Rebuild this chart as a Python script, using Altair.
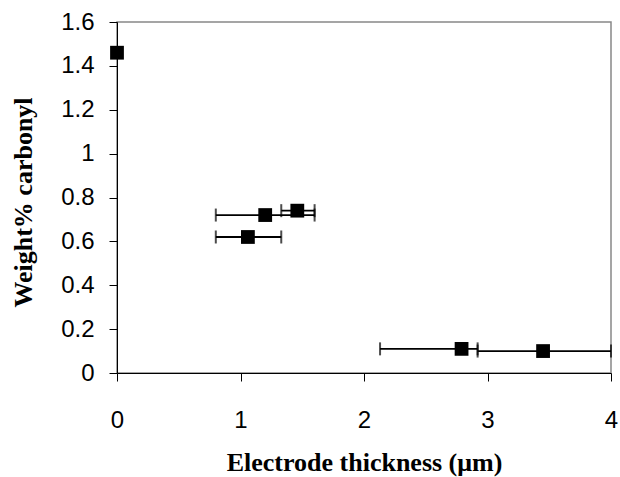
import altair as alt
import pandas as pd

thickness = [0.0, 1.06, 1.20, 1.46, 2.79, 3.45]
carbonyl = [1.46, 0.62, 0.72, 0.74, 0.11, 0.10]
thick_lo = [None, 0.80, 0.80, 1.33, 2.13, 2.92]
thick_hi = [None, 1.33, 1.60, 1.60, 2.92, 4.00]
x_ticks = [0, 1, 2, 3, 4]
y_ticks = [0, 0.2, 0.4, 0.6, 0.8, 1.0, 1.2, 1.4, 1.6]

df = pd.DataFrame({"x": thickness, "y": carbonyl, "lo": thick_lo, "hi": thick_hi})
err = df.dropna()
caps = pd.concat([
    err[["lo", "y"]].rename(columns={"lo": "cx"}),
    err[["hi", "y"]].rename(columns={"hi": "cx"}),
])

xscale = alt.Scale(domain=[0, 4], nice=False, zero=False)
yscale = alt.Scale(domain=[0, 1.6], nice=False)

xaxis = alt.Axis(
    title="Electrode thickness (μm)", values=x_ticks, format="~g",
    grid=False, domainColor="black", tickColor="black", tickSize=8,
    labelFont="Liberation Sans", labelFontSize=24, labelColor="black", labelPadding=27,
    labelFlush=False,
    titleFont="Liberation Serif", titleFontSize=26, titleFontWeight="bold",
    titleColor="black", titlePadding=17,
)
yaxis = alt.Axis(
    title="Weight% carbonyl", values=y_ticks, format="~g",
    grid=False, domainColor="black", tickColor="black", tickSize=8,
    labelFont="Liberation Sans", labelFontSize=24, labelColor="black", labelPadding=15,
    labelFlush=False,
    titleFont="Liberation Serif", titleFontSize=26, titleFontWeight="bold",
    titleColor="black", titlePadding=24, titleY=180,
)

base = alt.Chart(df)

rules = alt.Chart(err).mark_rule(color="black", strokeWidth=1.8).encode(
    x=alt.X("lo:Q", scale=xscale, axis=xaxis),
    x2="hi:Q",
    y=alt.Y("y:Q", scale=yscale, axis=yaxis),
)

capmarks = alt.Chart(caps).mark_tick(color="black", orient="vertical", size=13, thickness=2).encode(
    x=alt.X("cx:Q", scale=xscale),
    y=alt.Y("y:Q", scale=yscale),
)

points = base.mark_square(color="black", size=190, opacity=1, clip=False).encode(
    x=alt.X("x:Q", scale=xscale),
    y=alt.Y("y:Q", scale=yscale),
)

chart = (rules + capmarks + points).properties(
    width=494, height=351,
    autosize=alt.AutoSizeParams(type="none"),
    padding={"left": 117, "top": 22, "right": 9, "bottom": 104},
    background="white",
).configure_view(stroke="#888888", strokeWidth=1.5)

chart.save("out.html", embed_options={"renderer": "svg", "actions": False})
